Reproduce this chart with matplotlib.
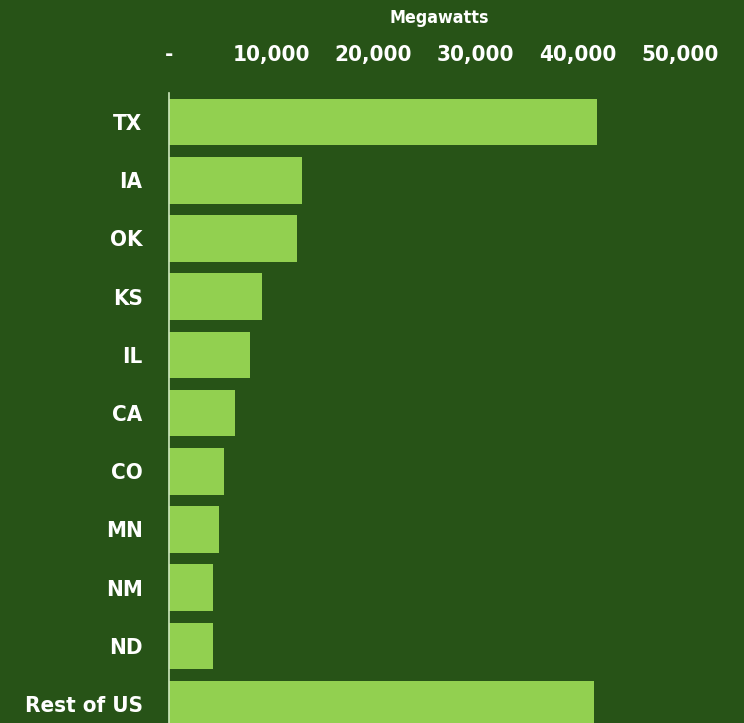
import matplotlib
matplotlib.use("Agg")
import matplotlib.pyplot as plt
from matplotlib.ticker import FuncFormatter

states = ["TX", "IA", "OK", "KS", "IL", "CA", "CO", "MN", "NM", "ND", "Rest of US"]
megawatts = [41900, 13000, 12500, 9100, 7900, 6450, 5350, 4900, 4300, 4300, 41600]
xticks = [0, 10000, 20000, 30000, 40000, 50000]

BG = "#275317"
BAR = "#92D050"

plt.rcParams["font.family"] = ["DejaVu Sans"]
plt.rcParams["font.stretch"] = "condensed"

fig = plt.figure(figsize=(7.44, 7.23), dpi=100, facecolor=BG)
ax = fig.add_axes([169/744, -0.0141, (680-169)/744, 0.8855], facecolor=BG)

ypos = list(range(len(states)))
ax.barh(ypos, megawatts, height=0.8, color=BAR, zorder=2)
ax.set_ylim(len(states) - 0.5, -0.5)
ax.set_xlim(0, 50000)

ax.set_yticks(ypos)
ax.set_yticklabels(states)
ax.set_xticks(xticks)
ax.xaxis.set_major_formatter(FuncFormatter(lambda v, p: "-" if v == 0 else f"{int(v):,}"))
ax.xaxis.tick_top()
ax.tick_params(axis="x", length=0, pad=20, labelsize=16, labelcolor="white")
ax.tick_params(axis="y", length=0, pad=19, labelsize=16, labelcolor="white")
for lab in ax.get_xticklabels() + ax.get_yticklabels():
    lab.set_fontweight("bold")
    lab.set_fontstretch("condensed")

for s in ["top", "right", "bottom"]:
    ax.spines[s].set_visible(False)
ax.spines["left"].set_color("#cfe8bf")
ax.spines["left"].set_linewidth(1.2)
ax.spines["left"].set_zorder(3)

fig.text(439/744, 1 - 18/723, "Megawatts", ha="center", va="center",
         color="white", fontsize=12.8, fontweight="bold", fontstretch="condensed")

fig.savefig("out.png", dpi=100, facecolor=BG)
